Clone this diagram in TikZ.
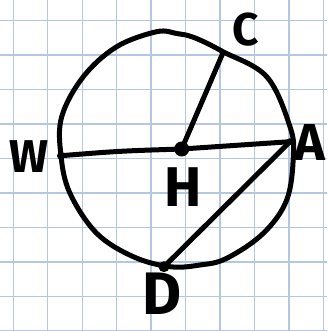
\documentclass[tikz,border=0pt]{standalone}
\usepackage{fontspec}
\setmainfont{Fira Sans}
\begin{document}
\begin{tikzpicture}[x=1pt,y=-1pt,
  gridline/.style={draw=gridblue,line width=1.3pt},
  ink/.style={draw=black,line width=5pt,line cap=round,line join=round},
  lbl/.style={text=black,inner sep=0pt}]
\definecolor{gridblue}{RGB}{180,198,224}
\useasboundingbox[fill=white] (0,0) rectangle (327,331);
\foreach \i in {0,...,9} {
  \draw[gridline] ({13.3+34.45*\i},0) -- ({13.3+34.45*\i},331);
}
\foreach \j in {0,...,9} {
  \draw[gridline] (0,{20.7+34.45*\j}) -- (327,{20.7+34.45*\j});
}
% hand-drawn circle
\draw[ink] plot[smooth cycle,tension=0.6] coordinates {
  (156.7,31.7) (176.7,33.5) (186,35) (200,40) (223,51.7) (266.7,76.7) (290,126.7)
  (293.3,156.7) (286.7,200) (263.3,233.3) (226.7,258.3) (200,265)
  (170,266.7) (133.3,256.7) (96.7,233.3) (70,193.3) (61,155.7)
  (61.7,116.7) (83.3,76.7) (116.7,46.7)};
\coordinate (H) at (181.7,149);
\coordinate (W) at (61,155.7);
\coordinate (A) at (290,141.7);
\coordinate (C) at (223,52.7);
\coordinate (D) at (164,266.7);
\draw[ink] (W) .. controls (120,151) .. (H);
\draw[ink] (H) -- (A);
\draw[ink] (H) -- (C);
\draw[ink] (A) -- (D);
\fill (H) circle (7.5);
\fill (W) circle (4);
\fill (A) circle (3.5);
\fill (D) circle (5.5);
\node[lbl,font=\fontsize{46}{46}\selectfont\bfseries] (lC) at (246,30) {C};
\node[lbl,font=\fontsize{46}{46}\selectfont\bfseries] (lW) at (29,157) {W};
\node[lbl,font=\fontsize{52}{52}\selectfont\bfseries] (lA) at (310,142) {A};
\node[lbl,font=\fontsize{56}{56}\selectfont\bfseries] (lH) at (183,187) {H};
\node[lbl,font=\fontsize{60}{60}\selectfont\bfseries] (lD) at (162,294) {D};
\end{tikzpicture}
\end{document}
